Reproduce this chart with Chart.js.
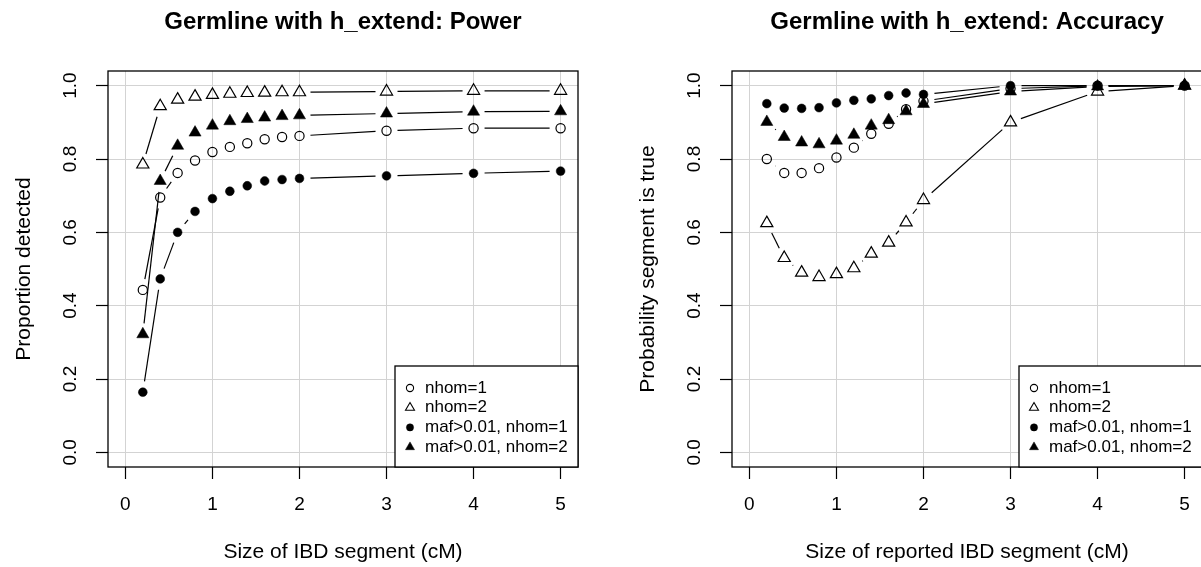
<!DOCTYPE html>
<html>
<head>
<meta charset="utf-8">
<script src="https://cdn.jsdelivr.net/npm/chart.js@4/dist/chart.umd.min.js"></script>
<style>
  html, body { margin: 0; padding: 0; background: #fff; overflow: hidden; }
  #wrap { position: relative; width: 1201px; height: 567px; overflow: hidden; }
  canvas { position: absolute; top: 0; }
  #chartPower { left: 0; }
  #chartAccuracy { left: 624px; }
</style>
</head>
<body>
<div id="wrap">
  <canvas id="chartPower" width="686" height="567"></canvas>
  <canvas id="chartAccuracy" width="686" height="567"></canvas>
</div>
<script>
// segment sizes (cM)
const sizes = [0.2, 0.4, 0.6, 0.8, 1.0, 1.2, 1.4, 1.6, 1.8, 2.0, 3, 4, 5];
const xTicks = [0, 1, 2, 3, 4, 5];
const yTicks = [0, 0.2, 0.4, 0.6, 0.8, 1.0];
const seriesNames = ['nhom=1', 'nhom=2', 'maf>0.01, nhom=1', 'maf>0.01, nhom=2'];

// power panel
const powerNhom1 = [0.443, 0.695, 0.762, 0.796, 0.819, 0.833, 0.843, 0.854, 0.860, 0.863, 0.877, 0.884, 0.884];
const powerNhom2 = [0.785, 0.944, 0.962, 0.970, 0.975, 0.978, 0.980, 0.981, 0.982, 0.982, 0.984, 0.986, 0.986];
const powerMafNhom1 = [0.164, 0.473, 0.600, 0.657, 0.692, 0.712, 0.727, 0.740, 0.744, 0.747, 0.754, 0.761, 0.767];
const powerMafNhom2 = [0.322, 0.740, 0.836, 0.872, 0.891, 0.903, 0.909, 0.913, 0.917, 0.919, 0.924, 0.929, 0.930];

// accuracy panel
const accNhom1 = [0.800, 0.762, 0.762, 0.775, 0.804, 0.831, 0.869, 0.896, 0.936, 0.958, 0.992, 1.0, 1.0];
const accNhom2 = [0.625, 0.530, 0.490, 0.478, 0.486, 0.502, 0.542, 0.572, 0.627, 0.688, 0.900, 0.984, 1.0];
const accMafNhom1 = [0.951, 0.939, 0.938, 0.940, 0.953, 0.960, 0.964, 0.973, 0.980, 0.976, 1.0, 1.0, 1.0];
const accMafNhom2 = [0.901, 0.860, 0.845, 0.840, 0.850, 0.866, 0.891, 0.906, 0.930, 0.950, 0.984, 0.998, 1.0];

const fontFamily = "'Liberation Sans', Arial, Helvetica, sans-serif";
Chart.defaults.font.family = fontFamily;
Chart.defaults.color = '#000';

// marker look per series: open circle, open triangle, filled circle, filled triangle
const markers = [
    { style: 'circle', radius: 4.6, filled: false },
    { style: 'triangle', radius: 7, filled: false },
    { style: 'circle', radius: 4.4, filled: true },
    { style: 'triangle', radius: 7, filled: true }
];
const legendMarkers = [
    { style: 'circle', radius: 3.6, filled: false },
    { style: 'triangle', radius: 5.2, filled: false },
    { style: 'circle', radius: 3.6, filled: true },
    { style: 'triangle', radius: 5.2, filled: true }
];

// R type="b": segments between points, with a gap round each point
const gappedLines = {
    id: 'gappedLines',
    afterDatasetsDraw(chart) {
        const ctx = chart.ctx;
        const gap = 11;
        ctx.save();
        ctx.strokeStyle = '#000';
        ctx.lineWidth = 1.2;
        chart.data.datasets.forEach((ds, i) => {
            const pts = chart.getDatasetMeta(i).data;
            for (let k = 1; k < pts.length; k++) {
                const a = pts[k - 1], b = pts[k];
                const dx = b.x - a.x, dy = b.y - a.y;
                const d = Math.hypot(dx, dy);
                if (d <= 2 * gap) continue;
                const ux = dx / d, uy = dy / d;
                ctx.beginPath();
                ctx.moveTo(a.x + ux * gap, a.y + uy * gap);
                ctx.lineTo(b.x - ux * gap, b.y - uy * gap);
                ctx.stroke();
            }
        });
        ctx.restore();
    }
};

// plot box and legend in the bottom right corner
const boxAndLegend = {
    id: 'boxAndLegend',
    afterDraw(chart) {
        const ctx = chart.ctx;
        const area = chart.chartArea;
        ctx.save();
        ctx.strokeStyle = '#000';
        ctx.lineWidth = 1.3;
        ctx.strokeRect(area.left, area.top, area.right - area.left, area.bottom - area.top);

        const w = 183, h = 101;
        const left = area.right - w, top = area.bottom - h;
        ctx.fillStyle = '#fff';
        ctx.fillRect(left, top, w, h);
        ctx.strokeRect(left, top, w, h);

        ctx.font = '17px ' + fontFamily;
        ctx.textBaseline = 'middle';
        ctx.textAlign = 'left';
        seriesNames.forEach((name, i) => {
            const y = top + 22 + i * 19.7;
            const m = legendMarkers[i];
            ctx.fillStyle = m.filled ? '#000' : 'rgba(0,0,0,0)';
            ctx.strokeStyle = '#000';
            ctx.lineWidth = m.filled ? 0.5 : 1.1;
            Chart.helpers.drawPoint(ctx, { pointStyle: m.style, radius: m.radius, rotation: 0, borderWidth: ctx.lineWidth }, left + 15, y);
            ctx.fillStyle = '#000';
            ctx.fillText(name, left + 30, y);
        });
        ctx.restore();
    }
};

function makeChart(canvasId, title, xTitle, yTitle, seriesValues) {
    const datasets = seriesValues.map((vals, i) => ({
        label: seriesNames[i],
        data: sizes.map((x, k) => ({ x: x, y: vals[k] })),
        pointStyle: markers[i].style,
        pointRadius: markers[i].radius,
        pointHoverRadius: markers[i].radius,
        pointBorderWidth: markers[i].filled ? 0.5 : 1.2,
        pointBorderColor: '#000',
        pointBackgroundColor: markers[i].filled ? '#000' : 'rgba(0,0,0,0)',
        showLine: false,
        order: 4 - i
    }));

    return new Chart(document.getElementById(canvasId), {
        type: 'scatter',
        data: { datasets: datasets },
        options: {
            responsive: false,
            animation: false,
            devicePixelRatio: 1,
            layout: { padding: 0 },
            plugins: {
                legend: { display: false },
                tooltip: { enabled: false },
                title: {
                    display: true,
                    text: title,
                    color: '#000',
                    font: { size: 24, weight: 'bold' },
                    padding: { top: 8.2, bottom: 34 }
                }
            },
            scales: {
                x: {
                    type: 'linear',
                    min: -0.2,
                    max: 5.2,
                    afterBuildTicks: s => { s.ticks = xTicks.map(v => ({ value: v })); },
                    afterFit: s => { s.height = 100; },
                    grid: { color: '#d3d3d3', lineWidth: 1, tickColor: '#000', tickLength: 12, tickWidth: 1.2 },
                    border: { display: false },
                    ticks: { font: { size: 19 }, padding: 14.6, maxRotation: 0, callback: v => String(v) },
                    title: { display: true, text: xTitle, font: { size: 21 }, padding: { top: 0, bottom: 2.4 } }
                },
                y: {
                    type: 'linear',
                    position: 'left',
                    min: -0.04,
                    max: 1.04,
                    afterBuildTicks: s => { s.ticks = yTicks.map(v => ({ value: v })); },
                    afterFit: s => { s.width = 108; },
                    grid: { color: '#d3d3d3', lineWidth: 1, tickColor: '#000', tickLength: 12, tickWidth: 1.2 },
                    border: { display: false },
                    ticks: { font: { size: 19 }, padding: 12.3, minRotation: 90, maxRotation: 90, crossAlign: 'center', callback: v => v.toFixed(1) },
                    title: { display: true, text: yTitle, font: { size: 21 }, padding: { top: 11.4, bottom: 0 } }
                },
                // empty right-hand spacer so the title is centred over the plot box
                spacer: {
                    type: 'linear',
                    position: 'right',
                    display: true,
                    afterFit: s => { s.width = 108; },
                    grid: { display: false, drawTicks: false },
                    border: { display: false },
                    ticks: { display: false }
                }
            }
        },
        plugins: [gappedLines, boxAndLegend]
    });
}

makeChart('chartPower', 'Germline with h_extend: Power', 'Size of IBD segment (cM)', 'Proportion detected',
    [powerNhom1, powerNhom2, powerMafNhom1, powerMafNhom2]);
makeChart('chartAccuracy', 'Germline with h_extend: Accuracy', 'Size of reported IBD segment (cM)', 'Probability segment is true',
    [accNhom1, accNhom2, accMafNhom1, accMafNhom2]);
</script>
</body>
</html>
